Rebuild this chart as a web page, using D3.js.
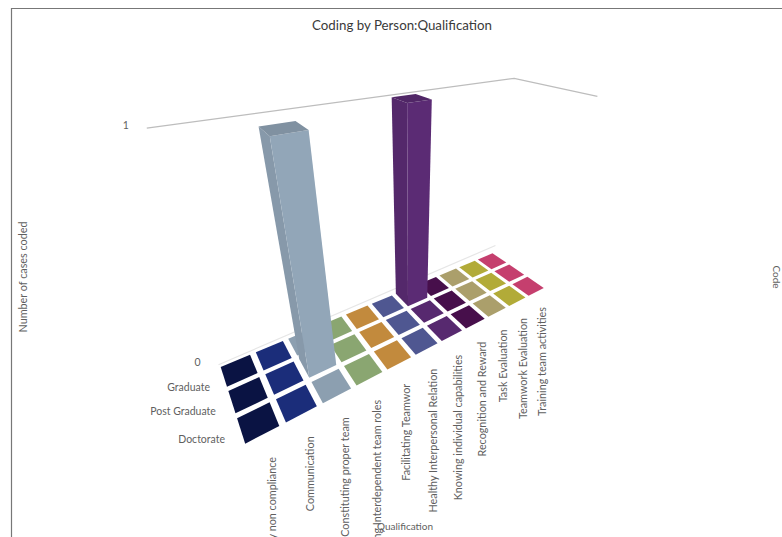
<!DOCTYPE html>
<html>
<head>
<meta charset="utf-8">
<script src="https://cdn.jsdelivr.net/npm/d3@7/dist/d3.min.js"></script>
<style>
html,body{margin:0;padding:0;background:#fff;overflow:hidden}
svg{display:block}
text{font-family:Lato,"Open Sans",sans-serif;fill:#5f5f5f}
</style>
</head>
<body>
<svg id="chart" width="782" height="537"></svg>
<script>
const chartTitle = "Coding by Person:Qualification";
const codes = [
  "Accountability non compliance", "Communication", "Constituting proper team",
  "Understanding Interdependent team roles", "Facilitating Teamwor", "Healthy Interpersonal Relation",
  "Knowing individual capabilities", "Recognition and Reward", "Task Evaluation",
  "Teamwork Evaluation", "Training team activities"
];
const qualifications = ["Graduate", "Post Graduate", "Doctorate"];
const graduateCases     = [0, 0, 0, 0, 0, 0, 1, 0, 0, 0, 0];
const postGraduateCases = [0, 0, 1, 0, 0, 0, 0, 0, 0, 0, 0];
const doctorateCases    = [0, 0, 0, 0, 0, 0, 0, 0, 0, 0, 0];
const caseSeries = [graduateCases, postGraduateCases, doctorateCases];
const valueTicks = [0, 1];
const codeColors = ["#0a1343", "#1b2d7a", "#8c9fb0", "#8aa671", "#c28a3d", "#4f5791",
                    "#57296f", "#470f4b", "#ab9f6b", "#b2ab38", "#c53f6e"];

const svg = d3.select("#chart");

// Floor plane scales: band centres fall on 0..1 across the chart
const bandPad = 0.17;
const uScale = d3.scaleBand().domain(codes).range([-0.05, 1.05]).paddingInner(bandPad).paddingOuter(bandPad / 2);
const vScale = d3.scaleBand().domain(qualifications).range([-0.25, 1.25]).paddingInner(bandPad).paddingOuter(bandPad / 2);
const hScale = d3.scaleLinear().domain([0, 1]).range([0, 1]);

// Perspective camera: floor homography plus a vertical vanishing point
const floorQuad = [[239, 370], [492, 261], [528, 286], [258, 422]];
const verticalVanish = [411, 1000];
const heightGain = -0.275;

function floorHomography([p0, p1, p2, p3]) {
  const dx1 = p1[0] - p2[0], dx2 = p3[0] - p2[0], sx = p0[0] - p1[0] + p2[0] - p3[0];
  const dy1 = p1[1] - p2[1], dy2 = p3[1] - p2[1], sy = p0[1] - p1[1] + p2[1] - p3[1];
  const det = dx1 * dy2 - dx2 * dy1;
  const g = (sx * dy2 - dx2 * sy) / det;
  const h = (dx1 * sy - sx * dy1) / det;
  return [p1[0] - p0[0] + g * p1[0], p3[0] - p0[0] + h * p3[0], p0[0],
          p1[1] - p0[1] + g * p1[1], p3[1] - p0[1] + h * p3[1], p0[1], g, h];
}
const H = floorHomography(floorQuad);

function project(u, v, height) {
  const k = hScale(height) * heightGain;
  const w = H[6] * u + H[7] * v + 1 + k;
  return [(H[0] * u + H[1] * v + H[2] + k * verticalVanish[0]) / w,
          (H[3] * u + H[4] * v + H[5] + k * verticalVanish[1]) / w];
}

const line = d3.line();
const poly = pts => line(pts) + "Z";

// Page frame
svg.append("path").attr("d", "M11.5,537V8.5H782").attr("fill", "none").attr("stroke", "#777").attr("stroke-width", 1.2);

svg.append("text").attr("x", 402).attr("y", 30).attr("text-anchor", "middle")
  .attr("font-size", 13.3).style("fill", "#3a3a3a").text(chartTitle);

// Wall line at the top tick and the rear edge of the floor
const wallCorners = [[-0.045, -0.27], [1.095, -0.40], [1.095, 1.33]];
const wallPoint = (corner, height) => project(corner[0], corner[1], height);
svg.append("path").attr("d", line(wallCorners.map(c => wallPoint(c, 1))))
  .attr("fill", "none").attr("stroke", "#bdbdbd").attr("stroke-width", 1.2);
svg.append("path").attr("d", line(wallCorners.slice(0, 2).map(c => wallPoint(c, 0))))
  .attr("fill", "none").attr("stroke", "#e6e6e6").attr("stroke-width", 1.2);

// Value ticks
svg.selectAll(".tick").data(valueTicks).join("text").attr("class", "tick")
  .attr("x", d => wallPoint(wallCorners[0], d)[0] - 18)
  .attr("y", d => wallPoint(wallCorners[0], d)[1] + 1)
  .attr("text-anchor", "end").attr("font-size", 10.5).text(d => d);

// Cells: flat tiles first, then the raised columns over them
const cells = caseSeries.flatMap((values, r) => values.map((value, c) => ({
  code: codes[c], qualification: qualifications[r], value, color: codeColors[c]
}))).sort((a, b) => d3.ascending(a.value, b.value));

const cellGroups = svg.selectAll(".cell").data(cells).join("g").attr("class", "cell");
cellGroups.each(function(d) {
  const g = d3.select(this);
  const u0 = uScale(d.code), u1 = u0 + uScale.bandwidth();
  const v0 = vScale(d.qualification), v1 = v0 + vScale.bandwidth();
  const base = d3.color(d.color);
  if (d.value > 0) {
    // left face
    g.append("path").attr("fill", base.darker(0.1))
      .attr("d", poly([project(u0, v0, 0), project(u0, v1, 0), project(u0, v1, d.value), project(u0, v0, d.value)]));
    // front face
    g.append("path").attr("fill", d3.color(d.color).brighter(0.12))
      .attr("d", poly([project(u0, v1, 0), project(u1, v1, 0), project(u1, v1, d.value), project(u0, v1, d.value)]));
  }
  g.append("path").attr("fill", d.value > 0 ? base.darker(0.25) : d.color)
    .attr("d", poly([project(u0, v0, d.value), project(u1, v0, d.value), project(u1, v1, d.value), project(u0, v1, d.value)]));
});

// Qualification labels beside the front-left corner of the floor
const rowLabelX = d3.scaleOrdinal().domain(qualifications).range([-29, -32, -33]);
svg.selectAll(".row-label").data(qualifications).join("text").attr("class", "row-label")
  .attr("x", d => project(0, vScale(d) + vScale.bandwidth() / 2, 0)[0] + rowLabelX(d))
  .attr("y", d => project(0, vScale(d) + vScale.bandwidth() / 2, 0)[1] + 21)
  .attr("text-anchor", "end").attr("font-size", 10.5).text(d => d);

// Code labels, reading upward from below each column
const labelDrop = d3.scaleLinear().domain([0, codes.length - 1]).range([35, 21]);
svg.selectAll(".code-label").data(codes).join("text").attr("class", "code-label")
  .attr("transform", (d, i) => {
    const p = project(uScale(d) + uScale.bandwidth() / 2, 1, 0);
    return `translate(${p[0] + 18},${p[1] + labelDrop(i)}) rotate(-90)`;
  })
  .attr("text-anchor", "end").attr("font-size", 10.8).text(d => d);

// Axis titles
svg.append("text").attr("transform", "translate(27,277) rotate(-90)").attr("text-anchor", "middle")
  .attr("font-size", 10.8).text("Number of cases coded");
svg.append("text").attr("transform", "translate(773,277) rotate(90)").attr("text-anchor", "middle")
  .attr("font-size", 10).text("Code");
svg.append("text").attr("x", 405).attr("y", 530).attr("text-anchor", "middle")
  .attr("font-size", 10).text("Qualification");
</script>
</body>
</html>
